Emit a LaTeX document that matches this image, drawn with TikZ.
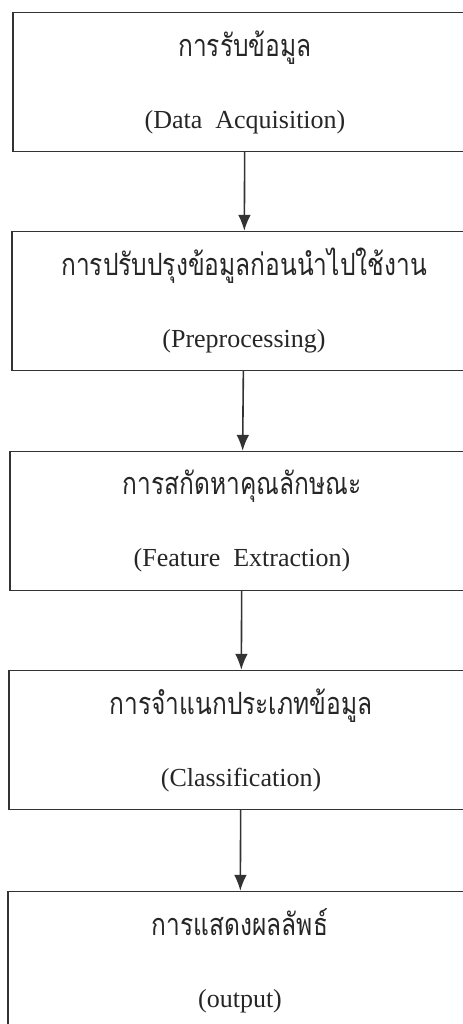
\documentclass[tikz,border=0pt]{standalone}
\usepackage{fontspec}
\setmainfont{Liberation Serif}
\newfontfamily\thaifont[Script=Thai,FakeStretch=0.8]{Loma}
\newcommand{\thaitext}[1]{{\fontsize{23}{54}\thaifont #1}}

\usetikzlibrary{positioning,arrows.meta}

\begin{document}
\begin{tikzpicture}[x=0.75pt,y=-0.75pt,
  stage/.style={rectangle, draw=black!80, line width=1.2pt,
    minimum width=348pt, minimum height=104pt, align=center,
    text=black!85, font=\fontsize{19.5}{54}\selectfont},
  flow/.style={draw=black!80, line width=1.2pt, -{Latex[length=12pt,width=9.5pt]}}]
  \useasboundingbox (0,0) rectangle (463,1024);
  \clip (0,0) rectangle (463,1024);
  \node[stage] (acq) at (245,82) {\thaitext{การรับข้อมูล}\\(Data~~Acquisition)};
  \node[stage] (pre) at (244,301) {\thaitext{การปรับปรุงข้อมูลก่อนนำไปใช้งาน}\\(Preprocessing)};
  \node[stage] (feat) at (242,521) {\thaitext{การสกัดหาคุณลักษณะ}\\(Feature~~Extraction)};
  \node[stage] (cls) at (241,740) {\thaitext{การจำแนกประเภทข้อมูล}\\(Classification)};
  \node[stage] (out) at (240,961) {\thaitext{การแสดงผลลัพธ์}\\(output)};
  \path (acq) edge[flow] (pre);
  \path (pre) edge[flow] (feat);
  \path (feat) edge[flow] (cls);
  \path (cls) edge[flow] (out);
\end{tikzpicture}
\end{document}
